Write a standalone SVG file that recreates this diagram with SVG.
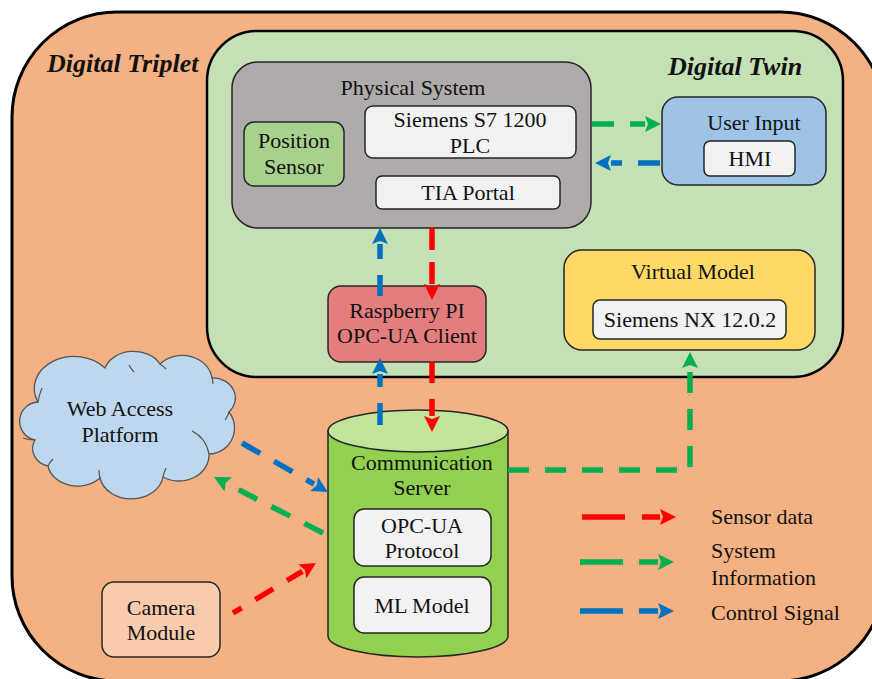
<svg xmlns="http://www.w3.org/2000/svg" width="872" height="679" viewBox="0 0 872 679">
  <style>
    text { font-family: "Liberation Serif", "Times New Roman", serif; font-size: 22px; fill: #111; text-anchor: middle; }
    .title { font-weight: bold; font-style: italic; font-size: 26px; text-anchor: start; }
    .legend { text-anchor: start; }
    .box { stroke: #262626; stroke-width: 1.5; }
    .inner { fill: #F2F2F2; stroke: #262626; stroke-width: 1.5; }
    .flow { fill: none; stroke-width: 5.5; stroke-dasharray: 21 16; }
    .red { stroke: #FF0000; }
    .green { stroke: #00B050; }
    .blue { stroke: #0070C0; }
  </style>
  <defs>
    <marker id="headRed" markerUnits="userSpaceOnUse" markerWidth="18" markerHeight="18" viewBox="0 -9 18 18" refX="0" refY="0" orient="auto">
      <path d="M0,-8 L16,0 L0,8 L3,0 Z" fill="#FF0000"/>
    </marker>
    <marker id="headGreen" markerUnits="userSpaceOnUse" markerWidth="18" markerHeight="18" viewBox="0 -9 18 18" refX="0" refY="0" orient="auto">
      <path d="M0,-8 L16,0 L0,8 L3,0 Z" fill="#00B050"/>
    </marker>
    <marker id="headBlue" markerUnits="userSpaceOnUse" markerWidth="18" markerHeight="18" viewBox="0 -9 18 18" refX="0" refY="0" orient="auto">
      <path d="M0,-8 L16,0 L0,8 L3,0 Z" fill="#0070C0"/>
    </marker>
  </defs>

  <!-- outer container -->
  <g id="digital-triplet">
    <rect x="12" y="12" width="873" height="669" rx="105" ry="105" fill="#F4B183" stroke="#000" stroke-width="3"/>
    <text class="title" x="47" y="72">Digital Triplet</text>
  </g>

  <!-- twin container -->
  <g id="digital-twin">
    <rect x="207" y="31" width="636" height="346" rx="50" ry="50" fill="#C5E0B4" stroke="#000" stroke-width="2.5"/>
    <text class="title" x="668" y="75">Digital Twin</text>
  </g>

  <g id="physical-system">
    <rect class="box" x="232" y="62" width="359" height="166" rx="26" fill="#AFABAB"/>
    <text x="413" y="95">Physical System</text>
  </g>

  <g id="position-sensor">
    <rect class="box" x="244" y="122" width="100" height="64" rx="10" fill="#A9D18E"/>
    <text x="294" y="148">Position</text>
    <text x="294" y="174">Sensor</text>
  </g>

  <g id="plc">
    <rect class="inner" x="365" y="106" width="211" height="52" rx="8"/>
    <text x="470" y="127">Siemens S7 1200</text>
    <text x="470" y="153">PLC</text>
  </g>

  <g id="tia-portal">
    <rect class="inner" x="376" y="176" width="184" height="33" rx="6"/>
    <text x="468" y="200">TIA Portal</text>
  </g>

  <g id="user-input">
    <rect class="box" x="662" y="97" width="164" height="88" rx="16" fill="#9DC3E6"/>
    <text x="754" y="130">User Input</text>
  </g>

  <g id="hmi">
    <rect class="inner" x="704" y="141" width="91" height="35" rx="6"/>
    <text x="750" y="166">HMI</text>
  </g>

  <g id="virtual-model">
    <rect class="box" x="564" y="250" width="251" height="100" rx="18" fill="#FFD966"/>
    <text x="693" y="279">Virtual Model</text>
  </g>

  <g id="siemens-nx">
    <rect class="inner" x="593" y="300" width="193" height="39" rx="7"/>
    <text x="690" y="327">Siemens NX 12.0.2</text>
  </g>

  <g id="raspberry-pi">
    <rect class="box" x="328" y="286" width="158" height="76" rx="13" fill="#E47E7E"/>
    <text x="407" y="318">Raspberry PI</text>
    <text x="407" y="343">OPC-UA Client</text>
  </g>

  <g id="web-access">
    <path d="M38,402 A40,32 0 0 1 105,368 A30,24 0 0 1 160,364 A30,26 0 0 1 212,378 A22,20 0 0 1 229,412 A26,26 0 0 1 209,454 A30,26 0 0 1 163,477 A32,26 0 0 1 100,478 A30,24 0 0 1 48,466 A20,18 0 0 1 35,440 A19.2,19.2 0 0 1 38,402 Z" fill="#BDD7EE" stroke="#555" stroke-width="1.3"/>
    <!-- inner lobe creases -->
    <g fill="none" stroke="#555" stroke-width="1.2">
      <path d="M38,402 Q39,395 42,388"/>
      <path d="M129,365 Q131,369 134,372"/>
      <path d="M160,364 Q163,366 166,369"/>
      <path d="M212,378 Q213,381 213,384"/>
      <path d="M229,412 Q228,416 225,420"/>
      <path d="M192,431 Q206,438 209,454"/>
      <path d="M163,477 Q164,472 166,468"/>
      <path d="M100,478 Q99,474 99,470"/>
      <path d="M48,466 Q50,462 53,459"/>
      <path d="M35,440 Q28,440 23,438"/>
    </g>
    <text x="120" y="416">Web Access</text>
    <text x="120" y="442">Platform</text>
  </g>

  <g id="communication-server">
    <path class="box" d="M328,431 L328,636 A90,21 0 0 0 508,636 L508,431 Z" fill="#92D050"/>
    <ellipse class="box" cx="418" cy="431" rx="90" ry="21" fill="#C1E39A"/>
    <text x="422" y="470">Communication</text>
    <text x="422" y="495">Server</text>
  </g>

  <g id="opc-ua-protocol">
    <rect class="inner" x="354" y="509" width="137" height="57" rx="10"/>
    <text x="422" y="533">OPC-UA</text>
    <text x="422" y="558">Protocol</text>
  </g>

  <g id="ml-model">
    <rect class="inner" x="354" y="577" width="137" height="56" rx="10"/>
    <text x="422" y="613">ML Model</text>
  </g>

  <g id="camera-module">
    <rect class="box" x="102" y="582" width="118" height="75" rx="12" fill="#F8CBAD"/>
    <text x="161" y="615">Camera</text>
    <text x="161" y="640">Module</text>
  </g>

  <!-- data flows -->
  <g id="connectors">
    <line class="flow blue" x1="380" y1="296" x2="380" y2="244" marker-end="url(#headBlue)"/>
    <line class="flow red" x1="432" y1="228" x2="432" y2="284" style="stroke-dasharray:22 12" marker-end="url(#headRed)"/>
    <line class="flow blue" x1="380" y1="425" x2="380" y2="374" style="stroke-dasharray:22 16" marker-end="url(#headBlue)"/>
    <line class="flow red" x1="432" y1="362" x2="432" y2="416" marker-end="url(#headRed)"/>
    <polyline class="flow green" points="508,470 690,470 690,368" marker-end="url(#headGreen)"/>
    <line class="flow green" x1="592" y1="124" x2="645" y2="124" style="stroke-dasharray:22 16" marker-end="url(#headGreen)"/>
    <line class="flow blue" x1="660" y1="163" x2="611" y2="163" style="stroke-dasharray:22 16" marker-end="url(#headBlue)"/>
    <line class="flow blue" x1="242" y1="443" x2="314.1" y2="484.1" marker-end="url(#headBlue)"/>
    <line class="flow green" x1="323" y1="533" x2="228.2" y2="484.3" marker-end="url(#headGreen)"/>
    <line class="flow red" x1="233" y1="613" x2="302.3" y2="571.3" style="stroke-dashoffset:11" marker-end="url(#headRed)"/>
  </g>

  <!-- legend -->
  <g id="legend">
    <line class="flow red" x1="582" y1="517" x2="660" y2="517" style="stroke-dasharray:43 17" marker-end="url(#headRed)"/>
    <line class="flow green" x1="580" y1="562" x2="658" y2="562" style="stroke-dasharray:43 16" marker-end="url(#headGreen)"/>
    <line class="flow blue" x1="580" y1="611" x2="658" y2="611" style="stroke-dasharray:43 16" marker-end="url(#headBlue)"/>
    <text class="legend" x="711" y="524">Sensor data</text>
    <text class="legend" x="711" y="558">System</text>
    <text class="legend" x="711" y="585">Information</text>
    <text class="legend" x="711" y="620">Control Signal</text>
  </g>
</svg>
